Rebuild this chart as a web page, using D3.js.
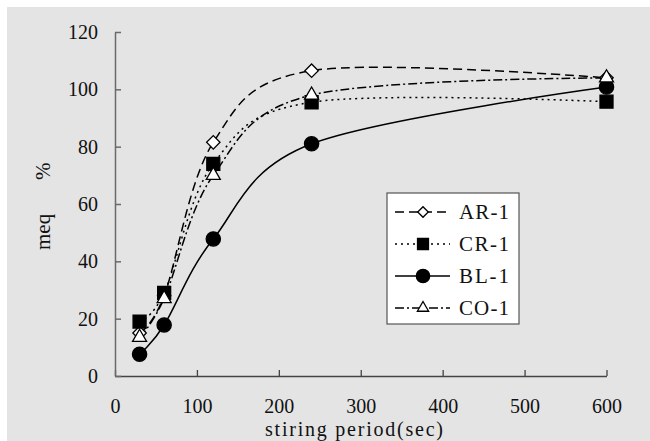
<!DOCTYPE html>
<html>
<head>
<meta charset="utf-8">
<script src="https://cdn.jsdelivr.net/npm/d3@7"></script>
</head>
<body style="margin:0">
<div id="chart"></div>
<script>
// data
const times = [30, 60, 120, 240, 600];
const ar1 = [15, 28, 81.5, 106.5, 104];
const cr1 = [19, 29, 74, 95.5, 95.7];
const bl1 = [7.6, 17.8, 47.8, 81, 100.8];
const co1 = [13.5, 27, 70, 98, 104];
const seriesNames = ["AR-1", "CR-1", "BL-1", "CO-1"];
const xTicks = [0, 100, 200, 300, 400, 500, 600];
const yTicks = [0, 20, 40, 60, 80, 100, 120];

const width = 650, height = 441;
const margin = { top: 32, right: 43.5, bottom: 65, left: 115 };
const font = "Liberation Serif";

const svg = d3.select("#chart")
    .append("svg")
    .attr("width", width)
    .attr("height", height);

svg.append("rect")
    .attr("x", 7).attr("y", 7)
    .attr("width", width - 7).attr("height", height - 7)
    .attr("fill", "#e4e4e4");

let x = d3.scaleLinear().domain([0, 600]).range([margin.left, width - margin.right]);
let y = d3.scaleLinear().domain([0, 120]).range([height - margin.bottom, margin.top]);

// axes, ticks point inward
let xAxis = svg.append("g")
    .attr("transform", "translate(0," + y(0) + ")")
    .call(d3.axisBottom(x).tickValues(xTicks).tickSizeInner(-6).tickSizeOuter(0).tickPadding(23));
xAxis.attr("font-family", font).attr("font-size", 20);
xAxis.select(".domain").attr("stroke", "#444").attr("stroke-width", 1.3);
xAxis.selectAll(".tick line").attr("stroke", "#444").attr("stroke-width", 1.3);
xAxis.selectAll("text").attr("fill", "#111");

let yAxis = svg.append("g")
    .attr("transform", "translate(" + x(0) + ",0)")
    .call(d3.axisLeft(y).tickValues(yTicks).tickSizeInner(-6).tickSizeOuter(0).tickPadding(17));
yAxis.attr("font-family", font).attr("font-size", 20);
yAxis.select(".domain").attr("stroke", "#6a6a6a").attr("stroke-width", 1.5);
yAxis.selectAll(".tick line").attr("stroke", "#6a6a6a").attr("stroke-width", 1.5);
yAxis.selectAll("text").attr("fill", "#111");

// axis titles
let yTitle = svg.append("text")
    .attr("transform", "translate(50,250) rotate(-90)")
    .attr("font-family", font)
    .attr("font-size", 21)
    .attr("fill", "#111");
yTitle.append("tspan").attr("x", 0).text("meq");
yTitle.append("tspan").attr("x", 70).text("%");

svg.append("text")
    .attr("x", 265).attr("y", 436)
    .attr("font-family", font)
    .attr("font-size", 20)
    .attr("fill", "#111")
    .attr("textLength", 178)
    .attr("lengthAdjust", "spacing")
    .text("stiring period(sec)");

const seriesData = [ar1, cr1, bl1, co1];
const dashes = ["9,5", "2,4", null, "9,3,2,3"];
const styles = [
    { type: d3.symbolSquare, size: 90, rotate: 45, fill: "#fff" },
    { type: d3.symbolSquare, size: 169, rotate: 0, fill: "#000" },
    { type: d3.symbolCircle, size: 160, rotate: 0, fill: "#000" },
    { type: d3.symbolTriangle, size: 85, rotate: 0, fill: "#fff" }
];
const legendStyles = [
    { type: d3.symbolSquare, size: 55, rotate: 45, fill: "#fff" },
    { type: d3.symbolSquare, size: 120, rotate: 0, fill: "#000" },
    { type: d3.symbolCircle, size: 140, rotate: 0, fill: "#000" },
    { type: d3.symbolTriangle, size: 55, rotate: 0, fill: "#fff" }
];

let line = d3.line()
    .x((d, i) => x(times[i]))
    .y(d => y(d))
    .curve(d3.curveCardinal.tension(0));

// smoothed lines first
seriesData.forEach(function (vals, k) {
    svg.append("path")
        .attr("d", line(vals))
        .attr("fill", "none")
        .attr("stroke", "#000")
        .attr("stroke-width", 1.5)
        .attr("stroke-dasharray", dashes[k]);
});

// then markers
seriesData.forEach(function (vals, k) {
    let s = styles[k];
    svg.append("g").selectAll("path")
        .data(vals)
        .enter()
        .append("path")
        .attr("d", d3.symbol().type(s.type).size(s.size))
        .attr("transform", (d, i) => "translate(" + x(times[i]) + "," + y(d) + ") rotate(" + s.rotate + ")")
        .attr("fill", s.fill)
        .attr("stroke", "#000")
        .attr("stroke-width", 1.3);
});

// legend
let legend = svg.append("g").attr("transform", "translate(387,193)");
legend.append("rect")
    .attr("width", 132).attr("height", 131)
    .attr("fill", "#fff")
    .attr("stroke", "#555")
    .attr("stroke-width", 1.2);

let rows = legend.selectAll("g.row")
    .data(seriesNames)
    .enter()
    .append("g")
    .attr("class", "row")
    .attr("transform", (d, i) => "translate(0," + (19 + i * 32) + ")");

rows.append("line")
    .attr("x1", 8).attr("x2", 63)
    .attr("stroke", "#000")
    .attr("stroke-width", 1.5)
    .attr("stroke-dasharray", (d, i) => dashes[i]);

rows.append("path")
    .attr("d", (d, i) => d3.symbol().type(legendStyles[i].type).size(legendStyles[i].size)())
    .attr("transform", (d, i) => "translate(36,0) rotate(" + legendStyles[i].rotate + ")")
    .attr("fill", (d, i) => legendStyles[i].fill)
    .attr("stroke", "#000")
    .attr("stroke-width", 1.3);

rows.append("text")
    .attr("x", 72)
    .attr("dy", "0.35em")
    .attr("font-family", font)
    .attr("font-size", 21)
    .attr("fill", "#111")
    .attr("textLength", 50)
    .attr("lengthAdjust", "spacing")
    .text(d => d);
</script>
</body>
</html>
